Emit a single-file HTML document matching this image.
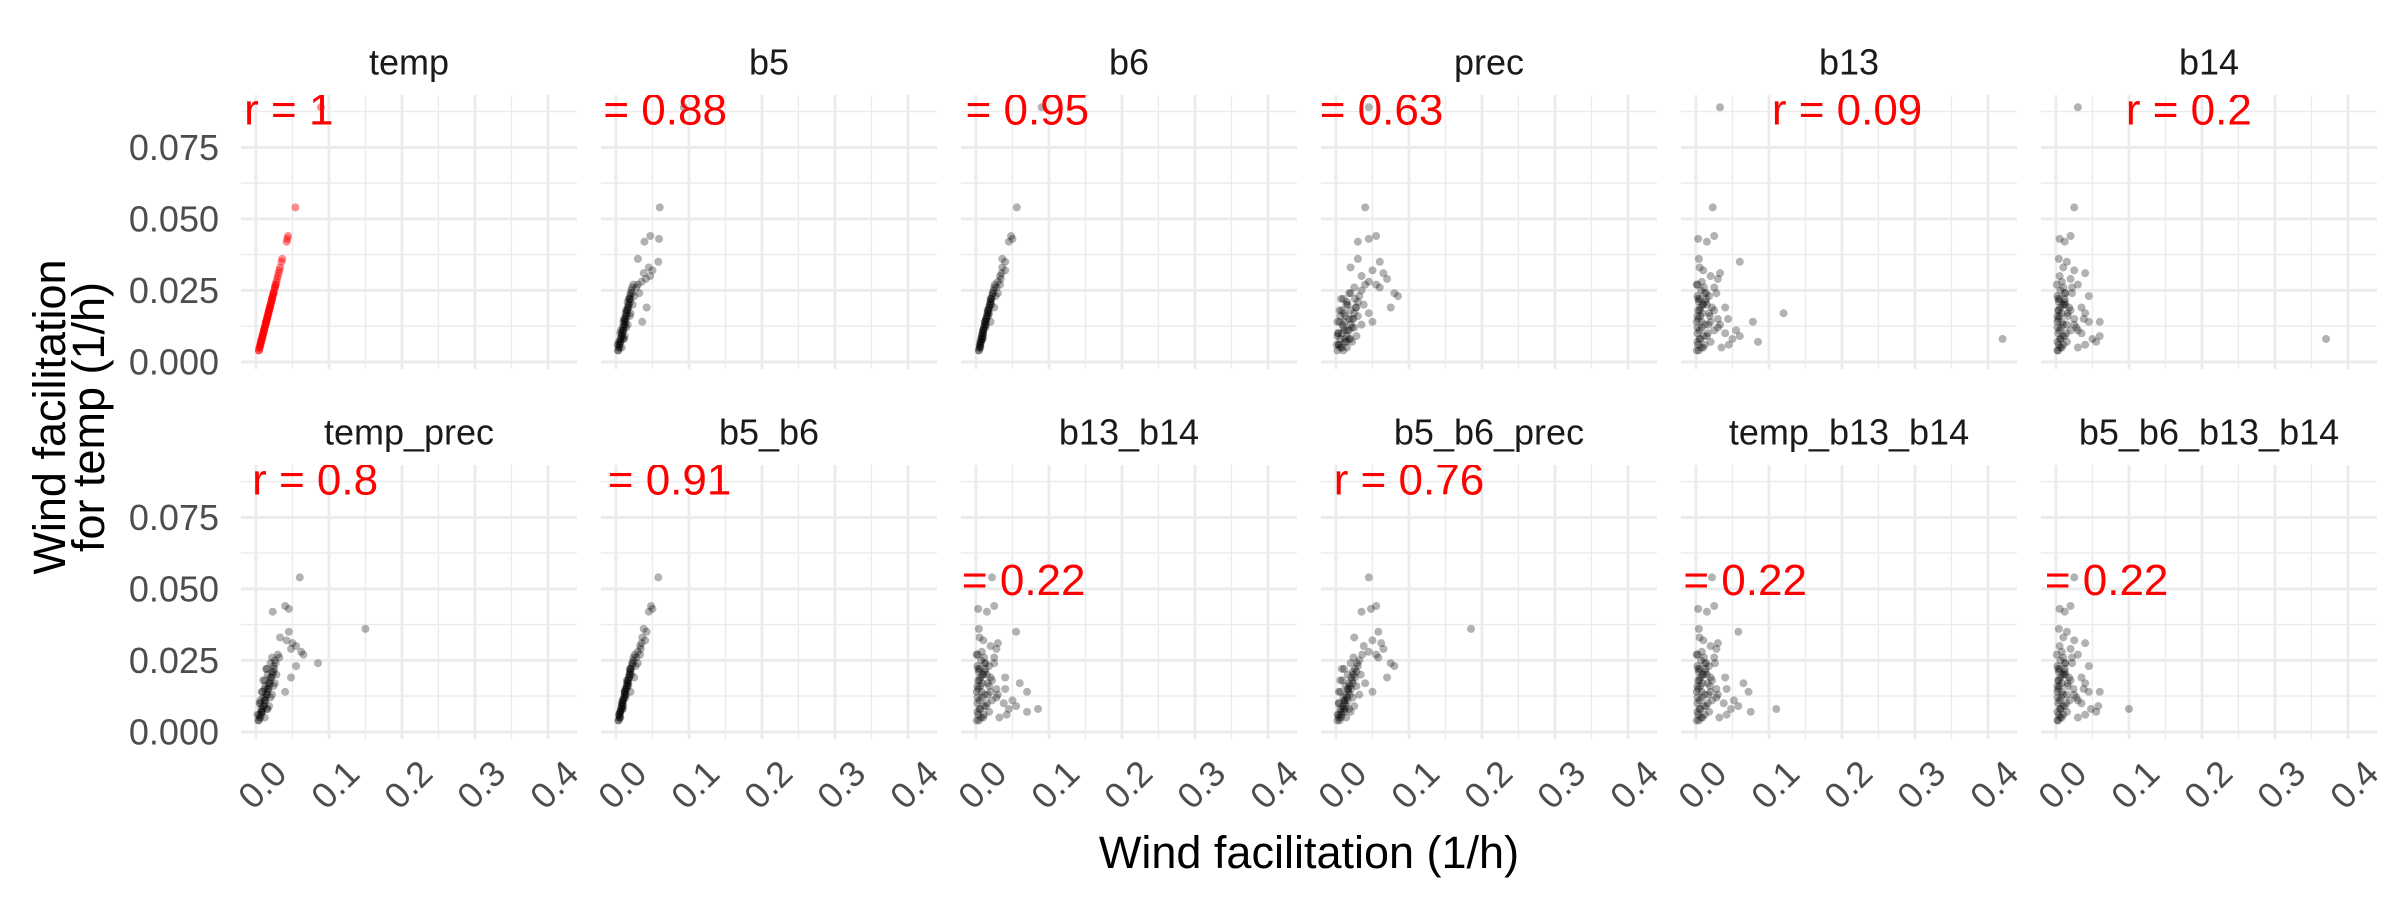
<!DOCTYPE html>
<html><head><meta charset="utf-8"><style>
html,body{margin:0;padding:0;background:#fff;}
svg{display:block;font-family:"Liberation Sans",Arial,sans-serif;}
</style></head><body>
<svg id="chart" width="2400" height="900" viewBox="0 0 2400 900" xmlns="http://www.w3.org/2000/svg">
<defs id="defs"></defs>
<g id="panels"></g>
<text x="1309" y="868" font-size="45" text-anchor="middle" fill="#000">Wind facilitation (1/h)</text>
<text transform="translate(65,417) rotate(-90)" font-size="45" text-anchor="middle" fill="#000">Wind facilitation</text>
<text transform="translate(104,417) rotate(-90)" font-size="45" text-anchor="middle" fill="#000">for temp (1/h)</text>
</svg>
<script>
const panelNames = ["temp","b5","b6","prec","b13","b14","temp_prec","b5_b6","b13_b14","b5_b6_prec","temp_b13_b14","b5_b6_b13_b14"];
const rLabels = ["r = 1","r = 0.88","r = 0.95","r = 0.63","r = 0.09","r = 0.2","r = 0.8","r = 0.91","r = 0.22","r = 0.76","r = 0.22","r = 0.22"];
const rLabelX = [0.045,0.049,0.052,0.044,0.207,0.182,0.081,0.055,0.047,0.10,0.049,0.051];
const rLabelY = [0.088,0.088,0.088,0.088,0.088,0.088,0.088,0.088,0.053,0.088,0.053,0.053];
const xTicks = [0,0.1,0.2,0.3,0.4];
const xTickLabels = ["0.0","0.1","0.2","0.3","0.4"];
const yTicks = [0,0.025,0.05,0.075];
const yTickLabels = ["0.000","0.025","0.050","0.075"];
const yValues = [.004,.005,.006,.007,.008,.009,.010,.011,.012,.013,.014,.015,.016,.017,.018,.019,.020,.021,.022,.023,.024,.025,.026,.027,
.005,.006,.008,.010,.012,.014,.016,.018,.020,.022,.009,.011,.013,.015,.007,.017,
.054,.043,.042,.044,.035,.033,.032,.030,.031,.028,.029,.036,.027,.024,.019,.014,.026,.023,
.089,.008,
.004,.006,.008,.010,.012,.014,.016,.018,.020,.022,.024,.005,.007,.009,.011,.013,.015,.017,.019,.021];
const xTemp = [.004,.005,.006,.007,.008,.009,.010,.011,.012,.013,.014,.015,.016,.017,.018,.019,.020,.021,.022,.023,.024,.025,.026,.027,
.005,.006,.008,.010,.012,.014,.016,.018,.020,.022,.009,.011,.013,.015,.007,.017,
.054,.043,.042,.044,.035,.033,.032,.030,.031,.028,.029,.036,.027,.024,.019,.014,.026,.023,
.089,.008,
.004,.006,.008,.010,.012,.014,.016,.018,.020,.022,.024,.005,.007,.009,.011,.013,.015,.017,.019,.021];
const xB5 = [.003,.004,.004,.006,.006,.008,.008,.010,.009,.011,.012,.012,.014,.013,.015,.016,.017,.016,.018,.019,.020,.021,.022,.024,
.008,.002,.011,.006,.014,.010,.019,.014,.023,.018,.012,.007,.016,.011,.004,.020,
.060,.059,.039,.047,.058,.045,.050,.047,.038,.035,.041,.030,.030,.032,.042,.036,.028,.025,
.093,.010,
.003,.005,.007,.009,.011,.013,.014,.016,.018,.020,.022,.005,.006,.008,.010,.012,.013,.015,.017,.019];
const xB6 = [.004,.005,.006,.006,.008,.008,.010,.010,.011,.012,.013,.014,.015,.016,.017,.018,.019,.020,.021,.022,.023,.024,.025,.026,
.006,.005,.009,.009,.013,.012,.017,.016,.021,.020,.010,.010,.014,.014,.007,.018,
.056,.050,.045,.048,.040,.036,.040,.033,.035,.030,.034,.036,.033,.030,.025,.020,.028,.027,
.090,.009,
.004,.006,.007,.009,.011,.013,.015,.017,.019,.021,.023,.005,.007,.008,.010,.012,.014,.016,.018,.020];
const xPrec = [.002,.008,.004,.012,.006,.015,.003,.018,.010,.020,.005,.022,.013,.025,.008,.028,.016,.030,.010,.032,.020,.035,.025,.040,
.015,.001,.020,.003,.025,.002,.030,.005,.038,.007,.028,.012,.035,.018,.022,.045,
.040,.045,.030,.055,.060,.020,.050,.035,.065,.045,.070,.030,.055,.080,.075,.050,.060,.085,
.045,.012,
.010,.004,.018,.008,.022,.012,.006,.020,.014,.026,.018,.006,.014,.002,.016,.009,.024,.011,.027,.015];
const xB13 = [.001,.010,.003,.020,.005,.015,.002,.025,.008,.012,.001,.030,.006,.018,.003,.022,.009,.004,.014,.002,.028,.007,.011,.001,
.035,.045,.050,.040,.030,.020,.002,.025,.015,.005,.060,.055,.033,.044,.085,.120,
.023,.003,.015,.025,.060,.005,.010,.020,.033,.008,.030,.004,.002,.012,.040,.078,.025,.018,
.033,.420,
.004,.012,.006,.016,.002,.008,.019,.005,.010,.003,.014,.007,.002,.011,.005,.017,.003,.009,.006,.013];
const xB14 = [.002,.008,.004,.015,.006,.012,.003,.020,.007,.010,.002,.025,.005,.016,.003,.018,.009,.004,.012,.002,.022,.006,.010,.001,
.030,.040,.050,.035,.028,.045,.002,.020,.013,.005,.060,.030,.025,.038,.055,.040,
.025,.005,.012,.020,.015,.010,.025,.005,.040,.008,.020,.004,.030,.012,.035,.060,.022,.045,
.030,.370,
.003,.010,.006,.014,.002,.008,.016,.004,.011,.003,.013,.006,.002,.009,.005,.015,.003,.008,.006,.012];
const xTempPrec = [.003,.005,.004,.008,.007,.010,.006,.012,.010,.014,.009,.016,.013,.018,.012,.020,.016,.022,.015,.024,.020,.026,.022,.030,
.012,.002,.016,.005,.020,.008,.024,.010,.028,.014,.018,.006,.022,.012,.008,.026,
.060,.045,.023,.040,.045,.033,.042,.055,.050,.062,.048,.150,.065,.085,.048,.040,.032,.055,
null,.015,
.004,.007,.009,.012,.013,.016,.018,.020,.023,.025,.027,.006,.008,.011,.013,.015,.017,.019,.021,.024];
const xB5B6 = [.003,.005,.005,.006,.007,.008,.009,.010,.011,.012,.012,.014,.015,.015,.017,.018,.018,.020,.020,.022,.023,.024,.024,.026,
.006,.004,.009,.008,.013,.012,.017,.015,.021,.019,.010,.009,.014,.013,.006,.017,
.058,.050,.045,.048,.042,.036,.040,.033,.035,.030,.034,.038,.033,.030,.025,.020,.028,.027,
null,.009,
.004,.005,.007,.009,.011,.012,.015,.016,.019,.020,.022,.005,.006,.008,.010,.012,.014,.016,.018,.019];
const xB13B14 = [.001,.010,.003,.018,.005,.014,.002,.022,.008,.012,.001,.028,.006,.016,.003,.020,.009,.004,.013,.002,.025,.007,.011,.001,
.032,.042,.045,.038,.028,.020,.002,.022,.015,.005,.055,.050,.030,.040,.070,.060,
.022,.003,.015,.025,.055,.005,.010,.020,.030,.008,.028,.004,.002,.012,.040,.070,.025,.018,
null,.085,
.004,.011,.006,.015,.002,.008,.018,.005,.010,.003,.013,.007,.002,.011,.005,.016,.003,.009,.006,.012];
const xB5B6Prec = [.002,.007,.004,.011,.006,.014,.004,.016,.010,.019,.006,.021,.013,.023,.009,.026,.016,.028,.011,.030,.020,.032,.024,.036,
.014,.002,.018,.004,.023,.004,.028,.006,.034,.008,.025,.012,.032,.017,.020,.040,
.045,.048,.035,.055,.058,.025,.050,.038,.062,.045,.065,.185,.055,.075,.070,.050,.058,.080,
null,.012,
.005,.008,.010,.012,.015,.017,.019,.022,.024,.026,.029,.004,.007,.009,.012,.014,.016,.018,.021,.023];
const xTempB13B14 = [.001,.009,.003,.018,.005,.014,.002,.022,.008,.012,.001,.028,.006,.016,.003,.020,.009,.004,.013,.002,.026,.007,.011,.001,
.032,.042,.048,.038,.028,.020,.002,.022,.015,.005,.058,.052,.030,.042,.075,.065,
.022,.003,.015,.025,.058,.005,.010,.020,.030,.008,.028,.004,.002,.012,.040,.072,.025,.018,
null,.110,
.004,.012,.006,.016,.002,.008,.019,.005,.010,.003,.014,.007,.002,.011,.005,.017,.003,.009,.006,.013];
const xB5B6B13B14 = [.002,.008,.004,.015,.006,.012,.003,.019,.007,.010,.002,.024,.005,.016,.003,.018,.009,.004,.012,.002,.022,.006,.010,.001,
.030,.040,.048,.035,.028,.045,.002,.020,.013,.005,.058,.030,.025,.038,.055,.040,
.025,.005,.012,.020,.015,.010,.025,.005,.040,.008,.020,.004,.030,.012,.035,.060,.022,.045,
null,.100,
.003,.010,.006,.014,.002,.008,.016,.004,.011,.003,.013,.006,.002,.009,.005,.015,.003,.008,.006,.012];
const seriesX = [xTemp,xB5,xB6,xPrec,xB13,xB14,xTempPrec,xB5B6,xB13B14,xB5B6Prec,xTempB13B14,xB5B6B13B14];

const NS = "http://www.w3.org/2000/svg";
const PW = 336, PH = 274, STRIDE = 360, LEFT0 = 241;
const rowTop = [95, 465];
const X0 = -0.0205, X1 = 0.4398, Y0 = -0.0025, Y1 = 0.0933;
function mk(tag, attrs, parent){const e=document.createElementNS(NS,tag);for(const k in attrs)e.setAttribute(k,attrs[k]);parent.appendChild(e);return e;}
const root = document.getElementById("panels");
const defs = document.getElementById("defs");

panelNames.forEach((name, i) => {
  const col = i % 6, row = Math.floor(i / 6);
  const left = LEFT0 + col * STRIDE, top = rowTop[row];
  const sx = v => left + (v - X0) / (X1 - X0) * PW;
  const sy = v => top + PH - (v - Y0) / (Y1 - Y0) * PH;
  const g = mk("g", {}, root);
  
  
  const cp = mk("clipPath", {id: "clip" + i}, defs);
  mk("rect", {x: left, y: top, width: PW, height: PH}, cp);
  [0.0125,0.0375,0.0625,0.0875].forEach(v => { const l = mk("line",{x1:left,x2:left+PW,y1:sy(v),y2:sy(v),stroke:"#ebebeb","stroke-width":1.4},g);   });
  [0.05,0.15,0.25,0.35].forEach(v => { const l = mk("line",{x1:sx(v),x2:sx(v),y1:top,y2:top+PH,stroke:"#ebebeb","stroke-width":1.4},g);   });
  yTicks.forEach(v => { const l = mk("line",{x1:left,x2:left+PW,y1:sy(v),y2:sy(v),stroke:"#ebebeb","stroke-width":2.8},g);   });
  xTicks.forEach(v => { const l = mk("line",{x1:sx(v),x2:sx(v),y1:top,y2:top+PH,stroke:"#ebebeb","stroke-width":2.8},g);   });
  const st = mk("text",{x:left+PW/2,y:(row===0?62:432),"font-size":36,"text-anchor":"middle","dominant-baseline":"central",fill:"#1a1a1a"},g);
  st.textContent = name;
  
  
  const pg = mk("g",{"clip-path":"url(#clip"+i+")"},g);
  const xs = seriesX[i];
  const col_ = i === 0 ? "#ff0000" : "#000000";
  xs.forEach((xv, k) => {
    if (xv === null) return;
    const c = mk("circle",{cx:sx(xv),cy:sy(yValues[k]),r:4,fill:col_,"fill-opacity":i===0?0.45:0.3},pg);
    
    
  });
  const rl = mk("text",{x:sx(rLabelX[i]),y:sy(rLabelY[i]),"font-size":44,"text-anchor":"middle","dominant-baseline":"central",fill:"#ff0000","clip-path":"url(#clip"+i+")"},g);
  rl.textContent = rLabels[i];
  
  
  if (col === 0) {
    yTicks.forEach((v, k) => {
      const t = mk("text",{x:219,y:sy(v),"font-size":36,"text-anchor":"end","dominant-baseline":"central",fill:"#4d4d4d"},g);
      t.textContent = yTickLabels[k];
      
      
    });
  }
  if (row === 1) {
    xTicks.forEach((v, k) => {
      const t = mk("text",{transform:"translate("+(sx(v)+14)+","+(top+PH+18)+") rotate(-45)","font-size":36,"text-anchor":"end","dominant-baseline":"hanging",fill:"#4d4d4d"},g);
      t.textContent = xTickLabels[k];
      
      
    });
  }
});
</script>
</body></html>
